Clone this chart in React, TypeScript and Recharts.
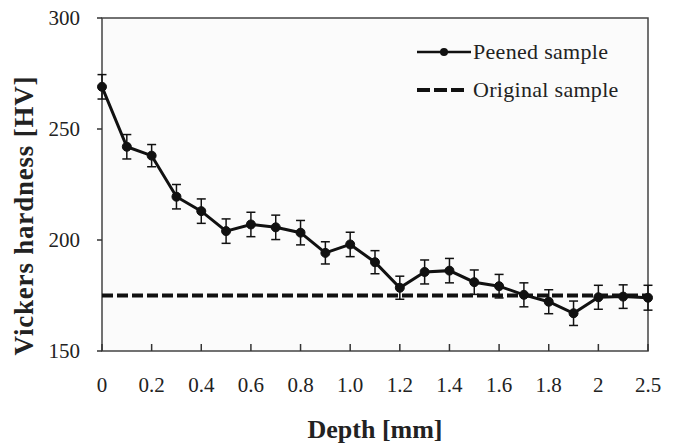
import { LineChart, Line, XAxis, YAxis, ErrorBar, ReferenceLine, ReferenceArea, Legend, Label } from "recharts";

const depths = ["0", "0.1", "0.2", "0.3", "0.4", "0.5", "0.6", "0.7", "0.8", "0.9", "1.0", "1.1", "1.2", "1.3", "1.4", "1.5", "1.6", "1.7", "1.8", "1.9", "2", "2.2", "2.5"];
const peened = [269, 242, 238, 219.5, 213, 204, 207, 205.7, 203.3, 194.2, 198, 190, 178.5, 185.6, 186.2, 181, 179.2, 175.3, 172.2, 167, 174.2, 174.5, 174];
const peenedErr = [5.5, 5.5, 5, 5.5, 5.5, 5.5, 5.5, 5.5, 5.5, 5, 5.5, 5.2, 5.2, 5.4, 5.5, 5.5, 5.3, 5.4, 5.4, 5.5, 5.4, 5.3, 5.6];
const originalHV = 175;
const yTicks = [150, 200, 250, 300];

const data = depths.map((d, i) => ({ depth: d, hv: peened[i], err: peenedErr[i] }));

const FONT = "'Liberation Serif', 'Times New Roman', Times, 'DejaVu Serif', serif";
const INK = "#111";

function LegendBox() {
  const row = { display: "flex", alignItems: "center", height: 38, fontSize: 22, fontFamily: FONT, color: "#222", letterSpacing: 0.3 };
  return (
    <div>
      <div style={row}>
        <svg width={54} height={12}>
          <line x1={0} y1={6} x2={54} y2={6} stroke={INK} strokeWidth={2.5} />
          <circle cx={27} cy={6} r={4} fill={INK} />
        </svg>
        <span style={{ marginLeft: 2 }}>Peened sample</span>
      </div>
      <div style={row}>
        <svg width={54} height={12}>
          <line x1={0} y1={6} x2={48} y2={6} stroke={INK} strokeWidth={4} strokeDasharray="13 4" />
        </svg>
        <span style={{ marginLeft: 2 }}>Original sample</span>
      </div>
    </div>
  );
}

export default function App() {
  return (
    <div style={{ position: "absolute", left: 0, top: 0, width: 674, height: 444, background: "#fff", fontFamily: FONT }}>
      <LineChart width={674} height={444} data={data} margin={{ top: 18, right: 26, left: 0, bottom: 0 }} style={{ fontFamily: FONT }}>
        <ReferenceArea x1={depths[0]} x2={depths[depths.length - 1]} y1={150} y2={300} fill="#fbfbfb" fillOpacity={1} stroke="#444" strokeWidth={1.5} />
        <XAxis
          dataKey="depth"
          height={93}
          interval={1}
          axisLine={false}
          tickSize={-7}
          tickMargin={33}
          tickLine={{ stroke: "#333", strokeWidth: 1.5 }}
          tick={{ fontSize: 21, fill: "#222", fontFamily: FONT }}
        >
          <Label
            content={({ viewBox }: any) => (
              <text x={viewBox.x + viewBox.width / 2} y={viewBox.y + 87} textAnchor="middle" fontSize={26} fontWeight="bold" fontFamily={FONT} fill="#222">
                Depth [mm]
              </text>
            )}
          />
        </XAxis>
        <YAxis
          width={102}
          domain={[150, 300]}
          ticks={yTicks}
          axisLine={false}
          tickSize={5}
          tickMargin={17}
          tickLine={{ stroke: "#333", strokeWidth: 1.5 }}
          tick={{ fontSize: 21, fill: "#222", fontFamily: FONT }}
        >
          <Label
            content={({ viewBox }: any) => {
              const cx = viewBox.x + 33;
              const cy = viewBox.y + viewBox.height / 2 + 31;
              return (
                <text x={cx} y={cy} transform={`rotate(-90 ${cx} ${cy})`} textAnchor="middle" fontSize={27} fontWeight="bold" fontFamily={FONT} fill="#222" letterSpacing={0.8}>
                  Vickers hardness [HV]
                </text>
              );
            }}
          />
        </YAxis>
        <ReferenceLine y={originalHV} stroke={INK} strokeWidth={4} strokeDasharray="11 4" />
        <Line
          dataKey="hv"
          stroke={INK}
          strokeWidth={3}
          dot={{ r: 4.5, fill: INK, stroke: INK, strokeWidth: 1 }}
          isAnimationActive={false}
        >
          <ErrorBar dataKey="err" width={4.5} stroke={INK} strokeWidth={1.5} direction="y" />
        </Line>
        <Legend
          layout="vertical"
          align="center"
          verticalAlign="middle"
          content={() => <LegendBox />}
          wrapperStyle={{ position: "absolute", left: 417, top: 33, width: 240 }}
        />
      </LineChart>
    </div>
  );
}
